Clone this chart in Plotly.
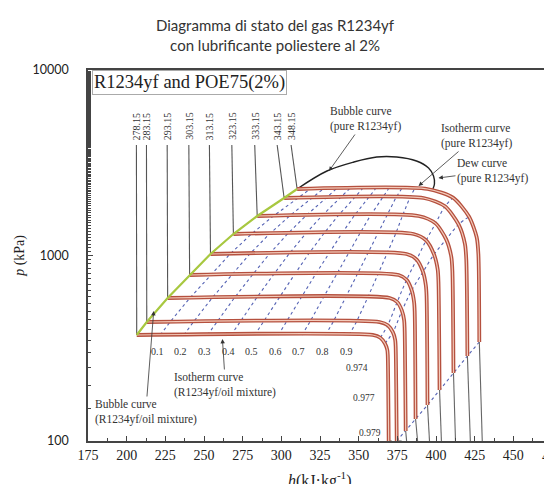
import math
import plotly.graph_objects as go

# ---------------- data ----------------
T_K = [278.15, 283.15, 293.15, 303.15, 313.15, 323.15, 333.15, 343.15, 348.15]
T_labels = ["278.15", "283.15", "293.15", "303.15", "313.15", "323.15", "333.15", "343.15", "348.15"]
p_sat = [372.8, 438.0, 590.1, 785.1, 1018.8, 1305.9, 1632.7, 2041.7, 2283.0]          # kPa
h_bubble = [206.5, 213.0, 226.5, 240.7, 254.2, 269.0, 284.4, 301.8, 310.2]             # kJ/kg
h_liquid_top = [206.3, 212.8, 226.2, 240.2, 253.5, 268.0, 282.8, 297.3, 306.3]
p_liquid_top = 3942.0

# isotherm tails of the R1234yf/oil mixture (first point = end of flat part)
tail_h = [
    [359.1, 364.0, 367.0, 368.5, 368.8, 369.4],
    [363.6, 368.8, 372.1, 373.6, 373.9, 374.6],
    [370.1, 374.9, 378.0, 379.4, 379.7, 380.4],
    [375.9, 381.0, 384.3, 385.8, 386.2, 386.8],
    [381.0, 387.5, 391.6, 393.4, 393.9, 394.5],
    [385.5, 393.6, 398.7, 401.1, 401.6, 402.3],
    [388.7, 399.7, 406.6, 409.9, 410.6, 411.3],
    [392.0, 405.8, 414.6, 418.7, 419.6, 420.3],
    [394.5, 411.0, 421.4, 426.3, 427.4, 428.0],
]
tail_p = [
    [372.8, 360.5, 335.5, 310.1, 290.8, 100.0],
    [438.0, 421.0, 385.9, 351.3, 325.2, 100.0],
    [590.1, 561.6, 503.4, 448.0, 406.6, 113.2],
    [785.1, 739.6, 649.3, 563.7, 502.2, 131.4],
    [1018.8, 950.6, 815.9, 692.5, 605.0, 156.3],
    [1305.9, 1206.2, 1013.7, 839.5, 719.7, 188.3],
    [1632.7, 1489.3, 1221.3, 983.9, 825.0, 232.5],
    [2041.7, 1842.1, 1471.0, 1155.0, 945.9, 287.2],
    [2283.0, 2049.4, 1618.6, 1254.9, 1018.8, 341.8],
]
# pure R1234yf superheated isotherms reaching 100 kPa
h_vapour_bottom = [371.4, 377.8, 381.0, 388.1, 395.8, 403.5, 412.6, 422.2, 429.9]

# pure R1234yf saturation dome (upper part)
dome_h = [310.2, 329.5, 346.9, 361.7, 374.6, 387.4, 395.2, 398.4, 399.0, 398.0]
dome_p = [2283, 2854, 3192, 3396, 3396, 3231, 2962, 2683, 2429, 2283]

qualities = [0.1, 0.2, 0.3, 0.4, 0.5, 0.6, 0.7, 0.8, 0.9]
q_labels = ["0.1", "0.2", "0.3", "0.4", "0.5", "0.6", "0.7", "0.8", "0.9"]
high_q_labels = ["0.974", "0.977", "0.979"]
high_q_label_h = [348.8, 353.3, 357.2]
high_q_label_p = [247.5, 170.5, 110.4]

x_ticks = [175, 200, 225, 250, 275, 300, 325, 350, 375, 400, 425, 450, 475]

# ---------------- figure ----------------
fig = go.Figure()
SERIF = "Liberation Serif, Times New Roman, serif"
SANS = "Lato, Open Sans, sans-serif"
QCOL = "#5462b4"

for q in qualities:
    fig.add_trace(go.Scatter(
        x=[hb + q * (th[0] - hb) for hb, th in zip(h_bubble, tail_h)],
        y=p_sat, mode="lines",
        line=dict(color=QCOL, width=1.1, dash="3px,3px"), hoverinfo="skip"))
for idx in (1, 2):
    fig.add_trace(go.Scatter(
        x=[th[idx] for th in tail_h], y=[tp[idx] for tp in tail_p], mode="lines",
        line=dict(color=QCOL, width=1.1, dash="3px,3px"), line_shape="spline", hoverinfo="skip"))
fig.add_trace(go.Scatter(
    x=[th[-1] for th in tail_h[1:]], y=[tp[-1] for tp in tail_p[1:]], mode="lines",
    line=dict(color=QCOL, width=1.1, dash="3px,3px"), hoverinfo="skip"))

for ht, hb, ps in zip(h_liquid_top, h_bubble, p_sat):
    fig.add_trace(go.Scatter(x=[ht, hb], y=[p_liquid_top, ps], mode="lines",
                             line=dict(color="#555555", width=1.1), hoverinfo="skip"))
for th, tp, hv in zip(tail_h, tail_p, h_vapour_bottom):
    fig.add_trace(go.Scatter(x=[th[-1], hv], y=[tp[-1], 100], mode="lines",
                             line=dict(color="#666666", width=1.1), hoverinfo="skip"))

fig.add_trace(go.Scatter(x=dome_h, y=dome_p, mode="lines", line_shape="spline",
                         line=dict(color="#222222", width=1.4), hoverinfo="skip"))
fig.add_trace(go.Scatter(x=h_bubble, y=p_sat, mode="lines",
                         line=dict(color="#222222", width=1), hoverinfo="skip"))

for hb, ps, th, tp in zip(h_bubble, p_sat, tail_h, tail_p):
    xs = [hb] + th
    ys = [ps] + tp
    fig.add_trace(go.Scatter(x=xs, y=ys, mode="lines", line_shape="spline",
                             line=dict(color="#b5503e", width=3.8, smoothing=0.7), hoverinfo="skip"))
    fig.add_trace(go.Scatter(x=xs, y=ys, mode="lines", line_shape="spline",
                             line=dict(color="#f3cbbb", width=1.2, smoothing=0.7), hoverinfo="skip"))

fig.add_trace(go.Scatter(x=h_bubble, y=p_sat, mode="lines",
                         line=dict(color="#a8c840", width=2.2), hoverinfo="skip"))

ann = []
for ht, lab in zip(h_liquid_top, T_labels):
    ann.append(dict(x=ht, y=math.log10(4989), text=lab, showarrow=False, textangle=-90,
                    font=dict(family=SERIF, size=10, color="#333")))
for q, lab in zip(qualities, q_labels):
    h0 = h_bubble[0] + q * (tail_h[0][0] - h_bubble[0]) - 2
    ann.append(dict(x=h0, y=math.log10(305), text=lab, showarrow=False,
                    font=dict(family=SERIF, size=10, color="#333")))
for h0, p0, lab in zip(high_q_label_h, high_q_label_p, high_q_labels):
    ann.append(dict(x=h0, y=math.log10(p0), text=lab, showarrow=False,
                    font=dict(family=SERIF, size=9.5, color="#333")))

arrow_style = dict(showarrow=True, arrowhead=2, arrowsize=1.1, arrowwidth=0.8,
                   arrowcolor="#333", align="left", font=dict(family=SERIF, size=11.5, color="#333"))
ann.append(dict(x=330.8, y=math.log10(2854), ax=37, ay=-52,
                text="Bubble curve<br>(pure R1234yf)", **arrow_style))
ann.append(dict(x=388.7, y=math.log10(2369), ax=58, ay=-50,
                text="Isotherm curve<br>(pure R1234yf)", **arrow_style))
ann.append(dict(x=401.6, y=math.log10(2618), ax=54, ay=-7,
                text="Dew curve<br>(pure R1234yf)", **arrow_style))
ann.append(dict(x=261.9, y=2.5499, ax=3, ay=46,
                text="Isotherm curve<br>(R1234yf/oil mixture)", **arrow_style))
ann.append(dict(x=217.5, y=2.7008, ax=-8, ay=101,
                text="Bubble curve<br>(R1234yf/oil mixture)", **arrow_style))

ann.append(dict(xref="paper", yref="paper", x=0.008, y=0.967, xanchor="left", yanchor="middle",
                text="R1234yf and POE75(2%)", showarrow=False, bordercolor="#aaa", borderwidth=1,
                borderpad=1, bgcolor="white", font=dict(family=SERIF, size=18.5, color="#222")))
ann.append(dict(xref="paper", yref="paper", x=-0.148, y=0.5, xanchor="center", yanchor="middle",
                text="<i>p</i> (kPa)", textangle=-90,
                showarrow=False, font=dict(family=SERIF, size=14, color="#222")))
ann.append(dict(xref="paper", yref="paper", x=0.5, y=-0.103, xanchor="center", yanchor="middle",
                text="<i>h</i>(kJ·kg<sup>-1</sup>)", showarrow=False,
                font=dict(family=SERIF, size=16, color="#222")))
ann.append(dict(xref="x", yref="paper", x=475, y=-0.043, xanchor="center", yanchor="middle",
                text="475", showarrow=False, font=dict(family=SERIF, size=14, color="#222")))
ann.append(dict(xref="paper", yref="paper", x=0.405, y=1.093, xanchor="center", yanchor="middle",
                text="Diagramma di stato del gas R1234yf<br>con lubrificante poliestere al 2%",
                showarrow=False, font=dict(family=SANS, size=15, color="#333")))

fig.update_layout(
    width=552, height=484,
    margin=dict(l=80, r=6, t=62, b=51),
    paper_bgcolor="white", plot_bgcolor="white",
    showlegend=False,
    annotations=ann,
)
fig.update_xaxes(range=[175, 475], tickvals=x_ticks[:-1], ticks="inside", ticklen=5,
                 showgrid=False, zeroline=False, showline=True, linecolor="#444", linewidth=1.5,
                 mirror=True, tickcolor="#444",
                 minor=dict(dtick=12.5, ticks="inside", ticklen=3, tickcolor="#444"),
                 tickfont=dict(family=SERIF, size=14, color="#222"))
fig.update_yaxes(type="log", range=[2, 4], tickvals=[100, 1000, 10000],
                 ticktext=["100", "1000", "10000"], ticks="inside", ticklen=5,
                 showgrid=False, zeroline=False, showline=True, linecolor="#444", linewidth=1.5,
                 mirror=True, tickcolor="#444", ticklabelstandoff=15,
                 minor=dict(ticks="inside", ticklen=3, tickcolor="#444"),
                 tickfont=dict(family=SANS, size=12.5, color="#222"))

fig.write_html("out.html")
